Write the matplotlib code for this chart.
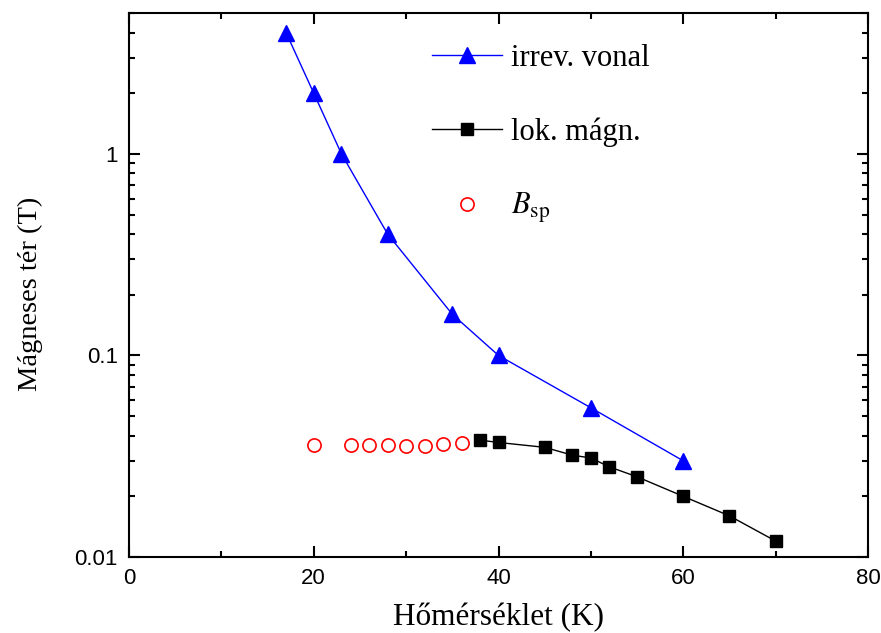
import matplotlib
matplotlib.use("Agg")
import matplotlib.pyplot as plt
from matplotlib.ticker import FixedLocator, LogLocator, NullFormatter, FixedFormatter

# irreversibility line
t_irr = [17, 20, 23, 28, 35, 40, 50, 60]
b_irr = [4.0, 2.0, 1.0, 0.4, 0.16, 0.1, 0.055, 0.03]

# local magnetisation
t_lok = [38, 40, 45, 48, 50, 52, 55, 60, 65, 70]
b_lok = [0.038, 0.037, 0.035, 0.032, 0.031, 0.028, 0.025, 0.020, 0.016, 0.012]

# B_sp
t_sp = [20, 24, 26, 28, 30, 32, 34, 36]
b_sp = [0.036, 0.036, 0.036, 0.036, 0.0355, 0.0355, 0.0365, 0.0367]

x_ticks = [0, 20, 40, 60, 80]
y_ticks = [0.01, 0.1, 1]
y_labels = ["0.01", "0.1", "1"]

plt.rcParams["mathtext.fontset"] = "stix"
serif = ["Liberation Serif", "DejaVu Serif"]
sans = ["Liberation Sans", "DejaVu Sans"]

fig = plt.figure(figsize=(8.81, 6.33), dpi=100)
ax = fig.add_axes([129 / 881, 1 - 557 / 633, (868 - 129) / 881, (557 - 13) / 633])

ax.plot(t_irr, b_irr, color="blue", lw=1, marker="^", ms=12, mfc="blue", mec="blue",
        label="irrev. vonal")
ax.plot(t_lok, b_lok, color="black", lw=1, marker="s", ms=9, label="lok. mágn.")
ax.plot(t_sp, b_sp, ls="none", marker="o", ms=9.5, mfc="none", mec="red", mew=1.2,
        label=r"$B_{\mathrm{sp}}$")

ax.set_yscale("log")
ax.set_xlim(0, 80)
ax.set_ylim(0.01, 5)

ax.xaxis.set_major_locator(FixedLocator(x_ticks))
ax.xaxis.set_minor_locator(FixedLocator([10, 30, 50, 70]))
ax.yaxis.set_major_locator(FixedLocator(y_ticks))
ax.yaxis.set_major_formatter(FixedFormatter(y_labels))
ax.yaxis.set_minor_locator(LogLocator(base=10, subs=range(2, 10)))
ax.yaxis.set_minor_formatter(NullFormatter())

ax.tick_params(which="both", direction="in", top=True, right=True, width=1.5)
ax.tick_params(which="major", length=8, labelsize=16, pad=8)
ax.tick_params(which="minor", length=4)
for lab in ax.get_xticklabels() + ax.get_yticklabels():
    lab.set_family(sans)
for s in ax.spines.values():
    s.set_linewidth(1.5)

ax.set_xlabel("Hőmérséklet (K)", family=serif, fontsize=22.5, labelpad=10)
ax.set_ylabel("Mágneses tér (T)", family=serif, fontsize=20.5)
ax.yaxis.set_label_coords(-0.117, 0.483)

ax.legend(loc="upper left", bbox_to_anchor=(0.41, 0.943), frameon=False,
          prop={"family": serif, "size": 22}, labelspacing=1.45,
          handlelength=2.3, handletextpad=0.3, borderpad=0, borderaxespad=0)

fig.savefig("out.png", dpi=100)
